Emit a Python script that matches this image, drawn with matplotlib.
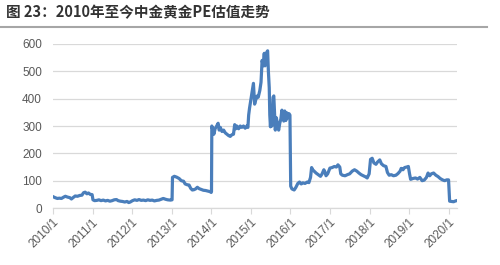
import pandas as pd
import matplotlib
matplotlib.use("Agg")
import matplotlib.pyplot as plt
from matplotlib.lines import Line2D

plt.rcParams['font.family'] = ['Liberation Sans', 'Noto Sans CJK SC', 'DejaVu Sans']

# -----------------------------
# data (date, PE)
# -----------------------------
dates = [
    # 2010
    "2010-01-04", "2010-01-20", "2010-02-10", "2010-03-01", "2010-03-20", "2010-04-10", "2010-04-25",
    "2010-05-15", "2010-06-05", "2010-06-20", "2010-07-05", "2010-07-25", "2010-08-15", "2010-09-05",
    "2010-09-25", "2010-10-10", "2010-10-25", "2010-11-10", "2010-11-25", "2010-12-10", "2010-12-28",
    # 2011
    "2011-01-05", "2011-01-20", "2011-02-10", "2011-03-01", "2011-03-20", "2011-04-10", "2011-05-01",
    "2011-05-20", "2011-06-10", "2011-07-01", "2011-07-20", "2011-08-10", "2011-08-25", "2011-09-15",
    "2011-10-05", "2011-10-25", "2011-11-15", "2011-12-01", "2011-12-15",
    # 2012
    "2012-01-05", "2012-01-25", "2012-02-15", "2012-03-05", "2012-03-25", "2012-04-15", "2012-05-05",
    "2012-05-25", "2012-06-15", "2012-07-05", "2012-07-25", "2012-08-15", "2012-09-05", "2012-09-25",
    "2012-10-15", "2012-11-05", "2012-11-25", "2012-12-20",
    # 2013
    "2013-01-04", "2013-01-08", "2013-01-25", "2013-02-15", "2013-03-10", "2013-03-30", "2013-04-20",
    "2013-05-05", "2013-05-25", "2013-06-10", "2013-06-25", "2013-07-10", "2013-07-25", "2013-08-10",
    "2013-08-25", "2013-09-10", "2013-09-30", "2013-10-20", "2013-11-10", "2013-12-01", "2013-12-20",
    "2013-12-31",
    # 2014
    "2014-01-03", "2014-01-06", "2014-01-15", "2014-01-25", "2014-02-05", "2014-02-20", "2014-03-05",
    "2014-03-15", "2014-03-25", "2014-04-10", "2014-04-25", "2014-05-10", "2014-05-25", "2014-06-10",
    "2014-06-25", "2014-07-10", "2014-07-25", "2014-08-05", "2014-08-15", "2014-08-25", "2014-09-10",
    "2014-09-25", "2014-10-10", "2014-10-25", "2014-11-10", "2014-11-25", "2014-12-05", "2014-12-12",
    "2014-12-20", "2014-12-28",
    # 2015
    "2015-01-10", "2015-01-25", "2015-02-05", "2015-02-15", "2015-03-01", "2015-03-10", "2015-03-25",
    "2015-04-05", "2015-04-15", "2015-04-25", "2015-05-05", "2015-05-12", "2015-05-20", "2015-05-28",
    "2015-06-05", "2015-06-12", "2015-06-20", "2015-06-25", "2015-07-01", "2015-07-08", "2015-07-15",
    "2015-07-25", "2015-08-01", "2015-08-08", "2015-08-15", "2015-08-25", "2015-09-05", "2015-09-15",
    "2015-09-25", "2015-10-05", "2015-10-15", "2015-10-22", "2015-11-01", "2015-11-10", "2015-11-20",
    "2015-12-01", "2015-12-10", "2015-12-20", "2015-12-28",
    # 2016
    "2016-01-04", "2016-01-15", "2016-02-05", "2016-02-20", "2016-03-10", "2016-03-25", "2016-04-10",
    "2016-04-25", "2016-05-15", "2016-06-05", "2016-06-20", "2016-07-05", "2016-07-15", "2016-07-25",
    "2016-08-10", "2016-08-25", "2016-09-15", "2016-10-05", "2016-10-20", "2016-11-05", "2016-11-15",
    "2016-11-25", "2016-12-10", "2016-12-31",
    # 2017
    "2017-01-20", "2017-02-10", "2017-03-01", "2017-03-15", "2017-04-01", "2017-04-10", "2017-04-25",
    "2017-05-20", "2017-06-10", "2017-07-01", "2017-07-25", "2017-08-15", "2017-09-05", "2017-09-25",
    "2017-10-15", "2017-11-05", "2017-11-25", "2017-12-10", "2017-12-28",
    # 2018
    "2018-01-10", "2018-01-25", "2018-02-10", "2018-03-01", "2018-03-15", "2018-04-05", "2018-04-20",
    "2018-05-10", "2018-06-01", "2018-06-15", "2018-07-01", "2018-07-20", "2018-08-10", "2018-09-01",
    "2018-09-20", "2018-10-10", "2018-10-20", "2018-11-05", "2018-11-20", "2018-12-10", "2018-12-25",
    # 2019
    "2019-01-05", "2019-01-15", "2019-02-05", "2019-03-01", "2019-03-20", "2019-04-10", "2019-05-01",
    "2019-05-20", "2019-06-10", "2019-06-25", "2019-07-10", "2019-07-25", "2019-08-15", "2019-09-05",
    "2019-09-25", "2019-10-15", "2019-11-05", "2019-11-25", "2019-12-15", "2019-12-31",
    # 2020
    "2020-01-10", "2020-01-25", "2020-02-15", "2020-03-05", "2020-03-15",
]

pe_values = [
    # 2010
    41, 38, 35, 36, 35, 40, 43, 40, 38, 33, 38, 44, 43, 46, 47, 56, 58, 52, 55, 50, 49,
    # 2011
    30, 27, 28, 30, 27, 29, 26, 28, 25, 27, 30, 31, 27, 25, 24, 22, 24, 20, 22,
    # 2012
    27, 30, 28, 31, 28, 29, 27, 30, 28, 29, 26, 28, 29, 32, 35, 32, 30, 29,
    # 2013
    30, 112, 116, 113, 108, 100, 98, 88, 85, 84, 72, 66, 67, 70, 76, 71, 68, 65, 64, 62, 60, 57,
    # 2014
    60, 300, 285, 270, 290, 300, 310, 285, 295, 280, 285, 275, 270, 265, 262, 268, 270, 305, 290,
    300, 290, 300, 295, 300, 292, 300, 295, 340, 365, 385,
    # 2015
    420, 456, 380, 395, 410, 405, 430, 460, 540, 520, 566, 520, 540, 570, 575, 500, 440, 340, 297,
    360, 300, 405, 410, 350, 285, 330, 300, 285, 310, 325, 358, 340, 318, 355, 320, 348, 330, 345, 340,
    # 2016
    80, 70, 66, 75, 90, 95, 88, 92, 90, 95, 93, 112, 148, 140, 134, 128, 122, 116, 125, 140, 132,
    118, 125, 146,
    # 2017
    148, 152, 150, 158, 150, 125, 120, 118, 122, 125, 135, 140, 135, 128, 122, 118, 114, 110, 125,
    # 2018
    178, 182, 165, 160, 168, 176, 162, 155, 152, 130, 120, 122, 118, 120, 126, 135, 145, 140, 148,
    150, 152,
    # 2019
    125, 105, 108, 110, 106, 112, 100, 102, 112, 128, 118, 125, 128, 120, 115, 108, 103, 100, 103, 103,
    # 2020
    25, 24, 23, 26, 27,
]

year_ticks = [f"{y}-01-01" for y in range(2010, 2021)]
year_labels = [f"{y}/1" for y in range(2010, 2021)]
y_ticks = [0, 100, 200, 300, 400, 500, 600]

title = "图 23：2010年至今中金黄金PE估值走势"

df = pd.DataFrame({"date": pd.to_datetime(dates), "pe": pe_values})

# -----------------------------
# figure
# -----------------------------
fig = plt.figure(figsize=(5.0, 2.65), dpi=100)
ax = fig.add_axes([0.106, 0.215, 0.808, 0.619])

ax.plot(df["date"], df["pe"], color="#4a7ebb", linewidth=2.3, solid_joinstyle="round")

ax.set_ylim(0, 600)
ax.set_yticks(y_ticks)
ax.set_xlim(pd.Timestamp("2010-01-01"), pd.Timestamp("2020-03-18"))
ax.set_xticks(pd.to_datetime(year_ticks))
ax.set_xticklabels(year_labels, rotation=45, ha="right", rotation_mode="anchor")

ax.grid(axis="y", color="#d9d9d9", linewidth=0.9)
ax.set_axisbelow(True)
for s in ["top", "right", "left"]:
    ax.spines[s].set_visible(False)
ax.spines["bottom"].set_color("#d9d9d9")
ax.spines["bottom"].set_linewidth(0.9)
ax.tick_params(axis="y", length=0, labelsize=8.5, labelcolor="#595959", pad=8)
ax.tick_params(axis="x", length=4, color="#d9d9d9", labelsize=8.5, labelcolor="#595959", pad=2)

fig.text(0.012, 0.952, title, fontsize=10.5, fontweight="bold", color="#333333", va="center",
         family=["Noto Sans CJK SC", "DejaVu Sans"])
fig.add_artist(Line2D([0.0, 0.974], [0.898, 0.898], transform=fig.transFigure,
                      color="#a6a6a6", linewidth=1.5))

fig.savefig("out.png", dpi=100)
